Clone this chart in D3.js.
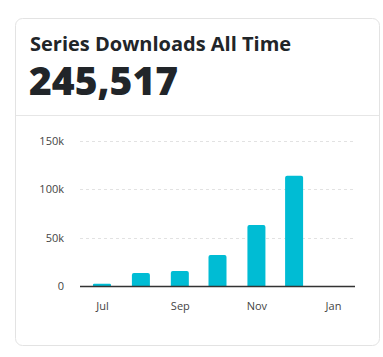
<!DOCTYPE html>
<html>
<head>
<meta charset="utf-8">
<script src="https://cdn.jsdelivr.net/npm/d3@7"></script>
<style>
  html, body { margin: 0; padding: 0; background: #fff; }
  svg { display: block; font-family: "Open Sans", sans-serif; }
</style>
</head>
<body>
<svg id="chart" width="383" height="357"></svg>
<script>
const title = "Series Downloads All Time";
const totalValue = 245517;
const months = ["2023-07-01", "2023-08-01", "2023-09-01", "2023-10-01", "2023-11-01", "2023-12-01"];
const downloads = [2400, 13400, 15500, 32000, 63000, 114000];
const yTicks = [0, 50000, 100000, 150000];
const yTickLabels = ["0", "50k", "100k", "150k"];
const xTicks = ["2023-07-01", "2023-09-01", "2023-11-01", "2024-01-01"];
const xTickLabels = ["Jul", "Sep", "Nov", "Jan"];

const parse = d3.timeParse("%Y-%m-%d");
const data = months.map((m, i) => ({ date: parse(m), value: downloads[i] }));

const svg = d3.select("#chart");

// card
svg.append("rect")
  .attr("x", 15.5).attr("y", 18.5)
  .attr("width", 364).attr("height", 327)
  .attr("rx", 7).attr("ry", 7)
  .attr("fill", "#fff").attr("stroke", "#e3e3e3");

svg.append("line")
  .attr("x1", 16).attr("x2", 379)
  .attr("y1", 115.5).attr("y2", 115.5)
  .attr("stroke", "#e6e6e6");

svg.append("text")
  .attr("x", 30).attr("y", 51)
  .attr("font-size", 20).attr("font-weight", 700)
  .attr("fill", "#212529")
  .text(title);

svg.append("text")
  .attr("x", 29).attr("y", 95)
  .attr("font-size", 39).attr("font-weight", 800)
  .attr("fill", "#212529")
  .text(d3.format(",")(totalValue));

const x = d3.scaleTime()
  .domain([new Date(2023, 5, 13, 12), new Date(2024, 0, 18, 12)])
  .range([80, 355]);
const y = d3.scaleLinear().domain([0, 150000]).range([286, 141]);

// gridlines
svg.append("g")
  .selectAll("line")
  .data(yTicks.filter(d => d > 0))
  .join("line")
  .attr("x1", 80).attr("x2", 355)
  .attr("y1", d => Math.round(y(d)) + 0.5).attr("y2", d => Math.round(y(d)) + 0.5)
  .attr("stroke", "#e2e2e2")
  .attr("stroke-dasharray", "3,3");

// y axis labels
const yAxis = d3.axisLeft(y)
  .tickValues(yTicks)
  .tickFormat((d, i) => yTickLabels[i])
  .tickSize(0).tickPadding(0);
const gy = svg.append("g").attr("transform", "translate(64,0)").call(yAxis);
gy.select(".domain").remove();
gy.selectAll("text").attr("font-size", 11).attr("fill", "#444").attr("font-family", "Open Sans, sans-serif");

// bars
const bw = 18, r = 2;
svg.append("g")
  .selectAll("path")
  .data(data)
  .join("path")
  .attr("fill", "#00bcd4")
  .attr("d", d => {
    const cx = x(d.date);
    const x0 = cx - bw / 2, x1 = cx + bw / 2;
    const yt = y(d.value), yb = y(0);
    const rr = Math.min(r, (yb - yt) / 2);
    return `M${x0},${yb}V${yt + rr}Q${x0},${yt} ${x0 + rr},${yt}H${x1 - rr}Q${x1},${yt} ${x1},${yt + rr}V${yb}Z`;
  });

// baseline
svg.append("line")
  .attr("x1", 80).attr("x2", 355)
  .attr("y1", 286.5).attr("y2", 286.5)
  .attr("stroke", "#333").attr("stroke-width", 1.5);

// x axis labels
const xAxis = d3.axisBottom(x)
  .tickValues(xTicks.map(parse))
  .tickFormat((d, i) => xTickLabels[i])
  .tickSize(0).tickPadding(0);
const gx = svg.append("g").attr("transform", "translate(0,302)").call(xAxis);
gx.select(".domain").remove();
gx.selectAll("text").attr("font-size", 11).attr("fill", "#444").attr("font-family", "Open Sans, sans-serif");
</script>
</body>
</html>
